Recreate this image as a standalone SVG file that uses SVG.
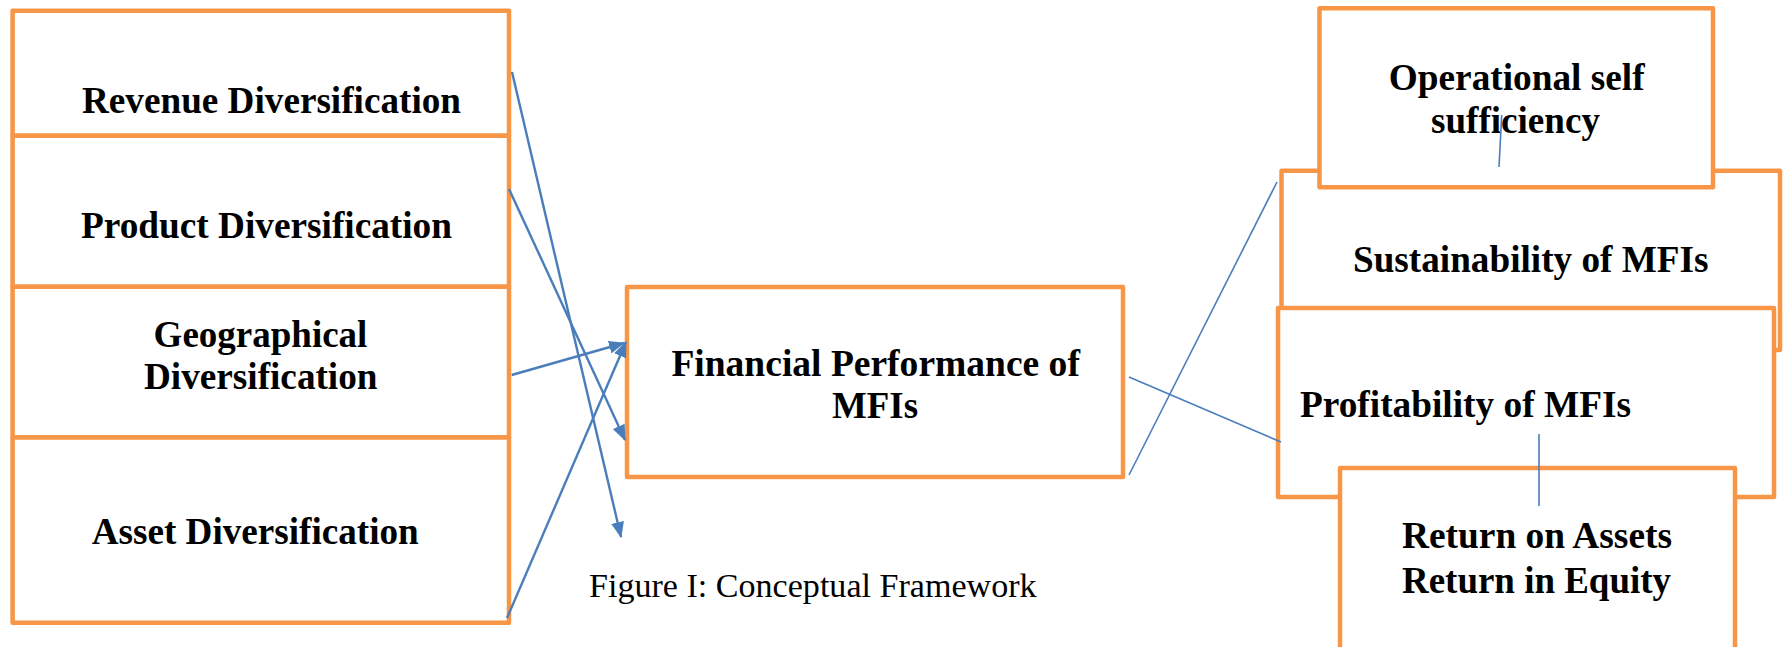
<svg xmlns="http://www.w3.org/2000/svg" width="1783" height="647" viewBox="0 0 1783 647">
  <style>
    .box { fill: #ffffff; stroke: #F79646; stroke-width: 4.5; stroke-linejoin: round; }
    .lbl { font-family: "Liberation Serif", "Times New Roman", serif; font-weight: bold; font-size: 37px; fill: #000000; }
    .cap { font-family: "Liberation Serif", "Times New Roman", serif; font-size: 34px; fill: #000000; }
    .arrow { stroke: #4A7EBB; stroke-width: 2.4; fill: none; marker-end: url(#head); }
    .link { stroke: #4A7EBB; stroke-width: 1.6; fill: none; }
  </style>
  <defs>
    <!-- filled triangular arrowhead, tip on the line end -->
    <marker id="head" viewBox="0 0 16 13" refX="15" refY="6.5" markerWidth="16" markerHeight="13" markerUnits="userSpaceOnUse" orient="auto">
      <path d="M0,0 L16,6.5 L0,13 Z" fill="#4A7EBB"/>
    </marker>
  </defs>
  <rect width="1783" height="647" fill="#ffffff"/>

  <!-- independent variables -->
  <g id="revenue">
    <rect class="box" x="12.6" y="10.7" width="496.4" height="125"/>
    <text class="lbl" x="82" y="113" textLength="379" lengthAdjust="spacingAndGlyphs">Revenue Diversification</text>
  </g>
  <g id="product">
    <rect class="box" x="12.6" y="135.7" width="496.4" height="151"/>
    <text class="lbl" x="81" y="238" textLength="371" lengthAdjust="spacingAndGlyphs">Product Diversification</text>
  </g>
  <g id="geographical">
    <rect class="box" x="12.6" y="286.7" width="496.4" height="150.8"/>
    <text class="lbl" x="153.6" y="347" textLength="213.8" lengthAdjust="spacingAndGlyphs">Geographical</text>
    <text class="lbl" x="144" y="389" textLength="233.5" lengthAdjust="spacingAndGlyphs">Diversification</text>
  </g>
  <g id="asset">
    <rect class="box" x="12.6" y="437.5" width="496.4" height="185.2"/>
    <text class="lbl" x="91.7" y="544" textLength="327" lengthAdjust="spacingAndGlyphs">Asset Diversification</text>
  </g>

  <!-- dependent variable -->
  <g id="financial-performance">
    <rect class="box" x="627" y="287" width="496" height="190"/>
    <text class="lbl" x="671.4" y="376" textLength="408.5" lengthAdjust="spacingAndGlyphs">Financial Performance of</text>
    <text class="lbl" x="832" y="418" textLength="86" lengthAdjust="spacingAndGlyphs">MFIs</text>
  </g>

  <!-- sustainability branch -->
  <g id="sustainability">
    <rect class="box" x="1281.5" y="170.7" width="498.5" height="179.3"/>
    <text class="lbl" x="1353" y="271.7" textLength="355.5" lengthAdjust="spacingAndGlyphs">Sustainability of MFIs</text>
  </g>
  <g id="operational-self-sufficiency">
    <rect class="box" x="1319.5" y="8.3" width="393.5" height="179"/>
    <text class="lbl" x="1388.8" y="90" textLength="255.8" lengthAdjust="spacingAndGlyphs">Operational self</text>
    <text class="lbl" x="1431" y="133" textLength="169" lengthAdjust="spacingAndGlyphs">sufficiency</text>
  </g>

  <!-- profitability branch -->
  <g id="profitability">
    <rect class="box" x="1278" y="308" width="496" height="189"/>
    <text class="lbl" x="1300" y="417" textLength="331" lengthAdjust="spacingAndGlyphs">Profitability of MFIs</text>
  </g>
  <g id="returns">
    <rect class="box" x="1340" y="468" width="395" height="200"/>
    <text class="lbl" x="1402" y="548" textLength="270" lengthAdjust="spacingAndGlyphs">Return on Assets</text>
    <text class="lbl" x="1402" y="593" textLength="269" lengthAdjust="spacingAndGlyphs">Return in Equity</text>
  </g>

  <!-- connectors -->
  <g id="connectors">
    <line class="arrow" x1="512" y1="72" x2="621" y2="537"/>
    <line class="arrow" x1="509" y1="189" x2="625" y2="440"/>
    <line class="arrow" x1="511.7" y1="375" x2="624" y2="343"/>
    <line class="arrow" x1="507" y1="618" x2="626" y2="342"/>
    <line class="link" x1="1129" y1="475" x2="1277" y2="182"/>
    <line class="link" x1="1129" y1="377" x2="1281" y2="442"/>
    <line class="link" x1="1501.7" y1="115" x2="1499" y2="167"/>
    <line class="link" x1="1539" y1="434" x2="1539" y2="506"/>
  </g>

  <text id="caption" class="cap" x="589" y="597" textLength="447.6" lengthAdjust="spacingAndGlyphs">Figure I: Conceptual Framework</text>
</svg>
